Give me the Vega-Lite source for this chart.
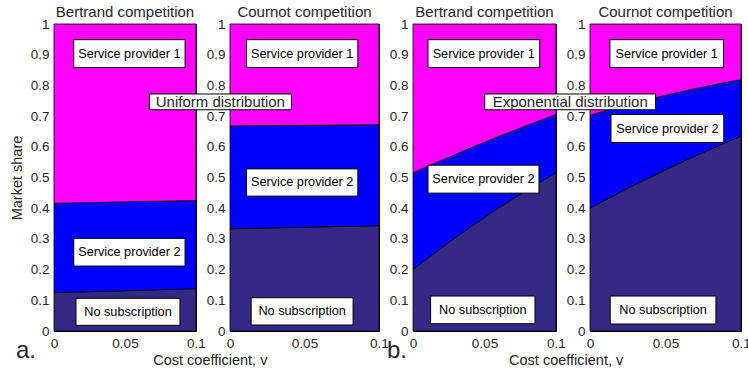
{
  "$schema": "https://vega.github.io/schema/vega-lite/v6.json",
  "padding": {"left": 8, "top": 4, "right": 5, "bottom": 2},
  "background": "white",
  "spacing": 34,
  "bounds": "flush",
  "datasets": {
    "areas": [
      {"panel": "UB", "v": 0, "series": "No subscription", "lo": 0, "hi": 0.125},
      {"panel": "UB", "v": 0.05, "series": "No subscription", "lo": 0, "hi": 0.131},
      {"panel": "UB", "v": 0.1, "series": "No subscription", "lo": 0, "hi": 0.138},
      {"panel": "UB", "v": 0, "series": "Service provider 2", "lo": 0.125, "hi": 0.416},
      {"panel": "UB", "v": 0.05, "series": "Service provider 2", "lo": 0.131, "hi": 0.421},
      {"panel": "UB", "v": 0.1, "series": "Service provider 2", "lo": 0.138, "hi": 0.425},
      {"panel": "UB", "v": 0, "series": "Service provider 1", "lo": 0.416, "hi": 1},
      {"panel": "UB", "v": 0.05, "series": "Service provider 1", "lo": 0.421, "hi": 1},
      {"panel": "UB", "v": 0.1, "series": "Service provider 1", "lo": 0.425, "hi": 1},

      {"panel": "UC", "v": 0, "series": "No subscription", "lo": 0, "hi": 0.333},
      {"panel": "UC", "v": 0.05, "series": "No subscription", "lo": 0, "hi": 0.338},
      {"panel": "UC", "v": 0.1, "series": "No subscription", "lo": 0, "hi": 0.343},
      {"panel": "UC", "v": 0, "series": "Service provider 2", "lo": 0.333, "hi": 0.668},
      {"panel": "UC", "v": 0.05, "series": "Service provider 2", "lo": 0.338, "hi": 0.670},
      {"panel": "UC", "v": 0.1, "series": "Service provider 2", "lo": 0.343, "hi": 0.672},
      {"panel": "UC", "v": 0, "series": "Service provider 1", "lo": 0.668, "hi": 1},
      {"panel": "UC", "v": 0.05, "series": "Service provider 1", "lo": 0.670, "hi": 1},
      {"panel": "UC", "v": 0.1, "series": "Service provider 1", "lo": 0.672, "hi": 1},

      {"panel": "EB", "v": 0, "series": "No subscription", "lo": 0, "hi": 0.200},
      {"panel": "EB", "v": 0.01, "series": "No subscription", "lo": 0, "hi": 0.236},
      {"panel": "EB", "v": 0.02, "series": "No subscription", "lo": 0, "hi": 0.271},
      {"panel": "EB", "v": 0.03, "series": "No subscription", "lo": 0, "hi": 0.305},
      {"panel": "EB", "v": 0.04, "series": "No subscription", "lo": 0, "hi": 0.338},
      {"panel": "EB", "v": 0.05, "series": "No subscription", "lo": 0, "hi": 0.370},
      {"panel": "EB", "v": 0.06, "series": "No subscription", "lo": 0, "hi": 0.401},
      {"panel": "EB", "v": 0.07, "series": "No subscription", "lo": 0, "hi": 0.431},
      {"panel": "EB", "v": 0.08, "series": "No subscription", "lo": 0, "hi": 0.460},
      {"panel": "EB", "v": 0.09, "series": "No subscription", "lo": 0, "hi": 0.488},
      {"panel": "EB", "v": 0.1, "series": "No subscription", "lo": 0, "hi": 0.515},
      {"panel": "EB", "v": 0, "series": "Service provider 2", "lo": 0.200, "hi": 0.515},
      {"panel": "EB", "v": 0.01, "series": "Service provider 2", "lo": 0.236, "hi": 0.536},
      {"panel": "EB", "v": 0.02, "series": "Service provider 2", "lo": 0.271, "hi": 0.556},
      {"panel": "EB", "v": 0.03, "series": "Service provider 2", "lo": 0.305, "hi": 0.576},
      {"panel": "EB", "v": 0.04, "series": "Service provider 2", "lo": 0.338, "hi": 0.596},
      {"panel": "EB", "v": 0.05, "series": "Service provider 2", "lo": 0.370, "hi": 0.615},
      {"panel": "EB", "v": 0.06, "series": "Service provider 2", "lo": 0.401, "hi": 0.634},
      {"panel": "EB", "v": 0.07, "series": "Service provider 2", "lo": 0.431, "hi": 0.652},
      {"panel": "EB", "v": 0.08, "series": "Service provider 2", "lo": 0.460, "hi": 0.670},
      {"panel": "EB", "v": 0.09, "series": "Service provider 2", "lo": 0.488, "hi": 0.688},
      {"panel": "EB", "v": 0.1, "series": "Service provider 2", "lo": 0.515, "hi": 0.705},
      {"panel": "EB", "v": 0, "series": "Service provider 1", "lo": 0.515, "hi": 1},
      {"panel": "EB", "v": 0.01, "series": "Service provider 1", "lo": 0.536, "hi": 1},
      {"panel": "EB", "v": 0.02, "series": "Service provider 1", "lo": 0.556, "hi": 1},
      {"panel": "EB", "v": 0.03, "series": "Service provider 1", "lo": 0.576, "hi": 1},
      {"panel": "EB", "v": 0.04, "series": "Service provider 1", "lo": 0.596, "hi": 1},
      {"panel": "EB", "v": 0.05, "series": "Service provider 1", "lo": 0.615, "hi": 1},
      {"panel": "EB", "v": 0.06, "series": "Service provider 1", "lo": 0.634, "hi": 1},
      {"panel": "EB", "v": 0.07, "series": "Service provider 1", "lo": 0.652, "hi": 1},
      {"panel": "EB", "v": 0.08, "series": "Service provider 1", "lo": 0.670, "hi": 1},
      {"panel": "EB", "v": 0.09, "series": "Service provider 1", "lo": 0.688, "hi": 1},
      {"panel": "EB", "v": 0.1, "series": "Service provider 1", "lo": 0.705, "hi": 1},

      {"panel": "EC", "v": 0, "series": "No subscription", "lo": 0, "hi": 0.400},
      {"panel": "EC", "v": 0.01, "series": "No subscription", "lo": 0, "hi": 0.426},
      {"panel": "EC", "v": 0.02, "series": "No subscription", "lo": 0, "hi": 0.452},
      {"panel": "EC", "v": 0.03, "series": "No subscription", "lo": 0, "hi": 0.477},
      {"panel": "EC", "v": 0.04, "series": "No subscription", "lo": 0, "hi": 0.501},
      {"panel": "EC", "v": 0.05, "series": "No subscription", "lo": 0, "hi": 0.525},
      {"panel": "EC", "v": 0.06, "series": "No subscription", "lo": 0, "hi": 0.548},
      {"panel": "EC", "v": 0.07, "series": "No subscription", "lo": 0, "hi": 0.571},
      {"panel": "EC", "v": 0.08, "series": "No subscription", "lo": 0, "hi": 0.592},
      {"panel": "EC", "v": 0.09, "series": "No subscription", "lo": 0, "hi": 0.614},
      {"panel": "EC", "v": 0.1, "series": "No subscription", "lo": 0, "hi": 0.634},
      {"panel": "EC", "v": 0, "series": "Service provider 2", "lo": 0.400, "hi": 0.703},
      {"panel": "EC", "v": 0.01, "series": "Service provider 2", "lo": 0.426, "hi": 0.717},
      {"panel": "EC", "v": 0.02, "series": "Service provider 2", "lo": 0.452, "hi": 0.731},
      {"panel": "EC", "v": 0.03, "series": "Service provider 2", "lo": 0.477, "hi": 0.744},
      {"panel": "EC", "v": 0.04, "series": "Service provider 2", "lo": 0.501, "hi": 0.756},
      {"panel": "EC", "v": 0.05, "series": "Service provider 2", "lo": 0.525, "hi": 0.768},
      {"panel": "EC", "v": 0.06, "series": "Service provider 2", "lo": 0.548, "hi": 0.779},
      {"panel": "EC", "v": 0.07, "series": "Service provider 2", "lo": 0.571, "hi": 0.790},
      {"panel": "EC", "v": 0.08, "series": "Service provider 2", "lo": 0.592, "hi": 0.800},
      {"panel": "EC", "v": 0.09, "series": "Service provider 2", "lo": 0.614, "hi": 0.810},
      {"panel": "EC", "v": 0.1, "series": "Service provider 2", "lo": 0.634, "hi": 0.819},
      {"panel": "EC", "v": 0, "series": "Service provider 1", "lo": 0.703, "hi": 1},
      {"panel": "EC", "v": 0.01, "series": "Service provider 1", "lo": 0.717, "hi": 1},
      {"panel": "EC", "v": 0.02, "series": "Service provider 1", "lo": 0.731, "hi": 1},
      {"panel": "EC", "v": 0.03, "series": "Service provider 1", "lo": 0.744, "hi": 1},
      {"panel": "EC", "v": 0.04, "series": "Service provider 1", "lo": 0.756, "hi": 1},
      {"panel": "EC", "v": 0.05, "series": "Service provider 1", "lo": 0.768, "hi": 1},
      {"panel": "EC", "v": 0.06, "series": "Service provider 1", "lo": 0.779, "hi": 1},
      {"panel": "EC", "v": 0.07, "series": "Service provider 1", "lo": 0.790, "hi": 1},
      {"panel": "EC", "v": 0.08, "series": "Service provider 1", "lo": 0.800, "hi": 1},
      {"panel": "EC", "v": 0.09, "series": "Service provider 1", "lo": 0.810, "hi": 1},
      {"panel": "EC", "v": 0.1, "series": "Service provider 1", "lo": 0.819, "hi": 1}
    ],
    "boxes": [
      {"panel": "UB", "label": "Service provider 1", "x1": 0.0139, "x2": 0.0923, "y1": 0.858, "y2": 0.949, "tx": 0.0531, "ty": 0.9035},
      {"panel": "UB", "label": "Service provider 2", "x1": 0.0139, "x2": 0.0923, "y1": 0.2115, "y2": 0.3017, "tx": 0.0531, "ty": 0.2566},
      {"panel": "UB", "label": "No subscription", "x1": 0.0155, "x2": 0.0887, "y1": 0.0185, "y2": 0.1064, "tx": 0.0521, "ty": 0.0625},
      {"panel": "UC", "label": "Service provider 1", "x1": 0.0111, "x2": 0.0858, "y1": 0.858, "y2": 0.949, "tx": 0.0484, "ty": 0.9035},
      {"panel": "UC", "label": "Service provider 2", "x1": 0.0111, "x2": 0.0858, "y1": 0.4393, "y2": 0.528, "tx": 0.0484, "ty": 0.4838},
      {"panel": "UC", "label": "No subscription", "x1": 0.0142, "x2": 0.0826, "y1": 0.0195, "y2": 0.1084, "tx": 0.0484, "ty": 0.064},
      {"panel": "EB", "label": "Service provider 1", "x1": 0.0105, "x2": 0.0886, "y1": 0.858, "y2": 0.949, "tx": 0.0495, "ty": 0.9035},
      {"panel": "EB", "label": "Service provider 2", "x1": 0.0105, "x2": 0.0881, "y1": 0.4491, "y2": 0.5402, "tx": 0.0493, "ty": 0.4946},
      {"panel": "EB", "label": "No subscription", "x1": 0.0123, "x2": 0.0853, "y1": 0.0238, "y2": 0.1139, "tx": 0.0488, "ty": 0.0688},
      {"panel": "EC", "label": "Service provider 1", "x1": 0.0132, "x2": 0.0884, "y1": 0.858, "y2": 0.949, "tx": 0.0508, "ty": 0.9035},
      {"panel": "EC", "label": "Service provider 2", "x1": 0.0139, "x2": 0.0886, "y1": 0.6141, "y2": 0.7052, "tx": 0.0512, "ty": 0.6596},
      {"panel": "EC", "label": "No subscription", "x1": 0.0134, "x2": 0.0834, "y1": 0.0228, "y2": 0.1139, "tx": 0.0484, "ty": 0.0683}
    ],
    "notes": [
      {"panel": "UC", "label": "Uniform distribution", "x1": -0.0541, "x2": 0.0412, "y1": 0.7206, "y2": 0.772, "tx": -0.0065, "ty": 0.7463},
      {"panel": "EC", "label": "Exponential distribution", "x1": -0.0697, "x2": 0.0434, "y1": 0.7206, "y2": 0.772, "tx": -0.0131, "ty": 0.7463}
    ],
    "tags": [
      {"panel": "UB", "label": "a.", "tx": -0.0197, "ty": -0.088},
      {"panel": "EB", "label": "b.", "tx": -0.0112, "ty": -0.088}
    ],
    "xtitles": [
      {"panel": "UC", "label": "Cost coefficient, v", "tx": -0.0132, "ty": -0.11},
      {"panel": "EC", "label": "Cost coefficient, v", "tx": -0.0158, "ty": -0.11}
    ]
  },
  "hconcat": [
    {
      "width": 142, "height": 307,
      "title": "Bertrand competition",
      "layer": [
        {
          "data": {"name": "areas"},
          "transform": [{"filter": "datum.panel === 'UB'"}],
          "mark": {"type": "area", "stroke": "black", "strokeWidth": 0.8, "opacity": 1},
          "encoding": {
            "x": {"field": "v", "type": "quantitative", "title": null, "scale": {"domain": [0, 0.1], "nice": false}, "axis": {"values": [0, 0.05, 0.1], "format": "~g"}},
            "y": {"field": "hi", "type": "quantitative", "title": "Market share", "scale": {"domain": [0, 1], "nice": false}, "axis": {"values": [0, 0.1, 0.2, 0.3, 0.4, 0.5, 0.6, 0.7, 0.8, 0.9, 1], "format": "~g"}},
            "y2": {"field": "lo"},
            "color": {"field": "series", "type": "nominal", "legend": null, "scale": {"domain": ["No subscription", "Service provider 2", "Service provider 1"], "range": ["#342a86", "#0000ff", "#ff00ff"]}}
          }
        },
        {
          "data": {"name": "boxes"},
          "transform": [{"filter": "datum.panel === 'UB'"}],
          "mark": {"type": "rect", "fill": "white", "stroke": "black", "strokeWidth": 1},
          "encoding": {
            "x": {"field": "x1", "type": "quantitative", "title": null, "axis": {"values": [0, 0.05, 0.1], "format": "~g"}},
            "x2": {"field": "x2"},
            "y": {"field": "y1", "type": "quantitative", "title": "Market share", "axis": {"values": [0, 0.1, 0.2, 0.3, 0.4, 0.5, 0.6, 0.7, 0.8, 0.9, 1], "format": "~g"}},
            "y2": {"field": "y2"}
          }
        },
        {
          "data": {"name": "boxes"},
          "transform": [{"filter": "datum.panel === 'UB'"}],
          "mark": {"type": "text", "fontSize": 12.7, "color": "black", "align": "center", "baseline": "middle"},
          "encoding": {
            "x": {"field": "tx", "type": "quantitative", "title": null, "axis": {"values": [0, 0.05, 0.1], "format": "~g"}},
            "y": {"field": "ty", "type": "quantitative", "title": "Market share", "axis": {"values": [0, 0.1, 0.2, 0.3, 0.4, 0.5, 0.6, 0.7, 0.8, 0.9, 1], "format": "~g"}},
            "text": {"field": "label"}
          }
        },
        {
          "data": {"name": "tags"},
          "transform": [{"filter": "datum.panel === 'UB'"}],
          "mark": {"type": "text", "fontSize": 24, "color": "#262626", "align": "center", "baseline": "alphabetic"},
          "encoding": {
            "x": {"field": "tx", "type": "quantitative", "title": null, "axis": {"values": [0, 0.05, 0.1], "format": "~g"}},
            "y": {"field": "ty", "type": "quantitative", "title": "Market share", "axis": {"values": [0, 0.1, 0.2, 0.3, 0.4, 0.5, 0.6, 0.7, 0.8, 0.9, 1], "format": "~g"}},
            "text": {"field": "label"}
          }
        }
      ]
    },
    {
      "width": 149, "height": 307,
      "title": "Cournot competition",
      "layer": [
        {
          "data": {"name": "areas"},
          "transform": [{"filter": "datum.panel === 'UC'"}],
          "mark": {"type": "area", "stroke": "black", "strokeWidth": 0.8, "opacity": 1},
          "encoding": {
            "x": {"field": "v", "type": "quantitative", "title": null, "scale": {"domain": [0, 0.1], "nice": false}, "axis": {"values": [0, 0.05, 0.1], "format": "~g"}},
            "y": {"field": "hi", "type": "quantitative", "title": null, "scale": {"domain": [0, 1], "nice": false}, "axis": {"values": [0, 0.1, 0.2, 0.3, 0.4, 0.5, 0.6, 0.7, 0.8, 0.9, 1], "format": "~g"}},
            "y2": {"field": "lo"},
            "color": {"field": "series", "type": "nominal", "legend": null, "scale": {"domain": ["No subscription", "Service provider 2", "Service provider 1"], "range": ["#342a86", "#0000ff", "#ff00ff"]}}
          }
        },
        {
          "data": {"name": "boxes"},
          "transform": [{"filter": "datum.panel === 'UC'"}],
          "mark": {"type": "rect", "fill": "white", "stroke": "black", "strokeWidth": 1},
          "encoding": {
            "x": {"field": "x1", "type": "quantitative", "title": null, "axis": {"values": [0, 0.05, 0.1], "format": "~g"}},
            "x2": {"field": "x2"},
            "y": {"field": "y1", "type": "quantitative", "title": null, "axis": {"values": [0, 0.1, 0.2, 0.3, 0.4, 0.5, 0.6, 0.7, 0.8, 0.9, 1], "format": "~g"}},
            "y2": {"field": "y2"}
          }
        },
        {
          "data": {"name": "boxes"},
          "transform": [{"filter": "datum.panel === 'UC'"}],
          "mark": {"type": "text", "fontSize": 12.7, "color": "black", "align": "center", "baseline": "middle"},
          "encoding": {
            "x": {"field": "tx", "type": "quantitative", "title": null, "axis": {"values": [0, 0.05, 0.1], "format": "~g"}},
            "y": {"field": "ty", "type": "quantitative", "title": null, "axis": {"values": [0, 0.1, 0.2, 0.3, 0.4, 0.5, 0.6, 0.7, 0.8, 0.9, 1], "format": "~g"}},
            "text": {"field": "label"}
          }
        },
        {
          "data": {"name": "notes"},
          "transform": [{"filter": "datum.panel === 'UC'"}],
          "mark": {"type": "rect", "fill": "white", "stroke": "black", "strokeWidth": 1},
          "encoding": {
            "x": {"field": "x1", "type": "quantitative", "title": null, "axis": {"values": [0, 0.05, 0.1], "format": "~g"}},
            "x2": {"field": "x2"},
            "y": {"field": "y1", "type": "quantitative", "title": null, "axis": {"values": [0, 0.1, 0.2, 0.3, 0.4, 0.5, 0.6, 0.7, 0.8, 0.9, 1], "format": "~g"}},
            "y2": {"field": "y2"}
          }
        },
        {
          "data": {"name": "notes"},
          "transform": [{"filter": "datum.panel === 'UC'"}],
          "mark": {"type": "text", "fontSize": 15, "color": "#262626", "align": "center", "baseline": "middle"},
          "encoding": {
            "x": {"field": "tx", "type": "quantitative", "title": null, "axis": {"values": [0, 0.05, 0.1], "format": "~g"}},
            "y": {"field": "ty", "type": "quantitative", "title": null, "axis": {"values": [0, 0.1, 0.2, 0.3, 0.4, 0.5, 0.6, 0.7, 0.8, 0.9, 1], "format": "~g"}},
            "text": {"field": "label"}
          }
        },
        {
          "data": {"name": "xtitles"},
          "transform": [{"filter": "datum.panel === 'UC'"}],
          "mark": {"type": "text", "fontSize": 14.5, "color": "#262626", "align": "center", "baseline": "alphabetic"},
          "encoding": {
            "x": {"field": "tx", "type": "quantitative", "title": null, "axis": {"values": [0, 0.05, 0.1], "format": "~g"}},
            "y": {"field": "ty", "type": "quantitative", "title": null, "axis": {"values": [0, 0.1, 0.2, 0.3, 0.4, 0.5, 0.6, 0.7, 0.8, 0.9, 1], "format": "~g"}},
            "text": {"field": "label"}
          }
        }
      ]
    },
    {
      "width": 143, "height": 307,
      "title": "Bertrand competition",
      "layer": [
        {
          "data": {"name": "areas"},
          "transform": [{"filter": "datum.panel === 'EB'"}],
          "mark": {"type": "area", "stroke": "black", "strokeWidth": 0.8, "opacity": 1},
          "encoding": {
            "x": {"field": "v", "type": "quantitative", "title": null, "scale": {"domain": [0, 0.1], "nice": false}, "axis": {"values": [0, 0.05, 0.1], "format": "~g"}},
            "y": {"field": "hi", "type": "quantitative", "title": null, "scale": {"domain": [0, 1], "nice": false}, "axis": {"values": [0, 0.1, 0.2, 0.3, 0.4, 0.5, 0.6, 0.7, 0.8, 0.9, 1], "format": "~g"}},
            "y2": {"field": "lo"},
            "color": {"field": "series", "type": "nominal", "legend": null, "scale": {"domain": ["No subscription", "Service provider 2", "Service provider 1"], "range": ["#342a86", "#0000ff", "#ff00ff"]}}
          }
        },
        {
          "data": {"name": "boxes"},
          "transform": [{"filter": "datum.panel === 'EB'"}],
          "mark": {"type": "rect", "fill": "white", "stroke": "black", "strokeWidth": 1},
          "encoding": {
            "x": {"field": "x1", "type": "quantitative", "title": null, "axis": {"values": [0, 0.05, 0.1], "format": "~g"}},
            "x2": {"field": "x2"},
            "y": {"field": "y1", "type": "quantitative", "title": null, "axis": {"values": [0, 0.1, 0.2, 0.3, 0.4, 0.5, 0.6, 0.7, 0.8, 0.9, 1], "format": "~g"}},
            "y2": {"field": "y2"}
          }
        },
        {
          "data": {"name": "boxes"},
          "transform": [{"filter": "datum.panel === 'EB'"}],
          "mark": {"type": "text", "fontSize": 12.7, "color": "black", "align": "center", "baseline": "middle"},
          "encoding": {
            "x": {"field": "tx", "type": "quantitative", "title": null, "axis": {"values": [0, 0.05, 0.1], "format": "~g"}},
            "y": {"field": "ty", "type": "quantitative", "title": null, "axis": {"values": [0, 0.1, 0.2, 0.3, 0.4, 0.5, 0.6, 0.7, 0.8, 0.9, 1], "format": "~g"}},
            "text": {"field": "label"}
          }
        },
        {
          "data": {"name": "tags"},
          "transform": [{"filter": "datum.panel === 'EB'"}],
          "mark": {"type": "text", "fontSize": 24, "color": "#262626", "align": "center", "baseline": "alphabetic"},
          "encoding": {
            "x": {"field": "tx", "type": "quantitative", "title": null, "axis": {"values": [0, 0.05, 0.1], "format": "~g"}},
            "y": {"field": "ty", "type": "quantitative", "title": null, "axis": {"values": [0, 0.1, 0.2, 0.3, 0.4, 0.5, 0.6, 0.7, 0.8, 0.9, 1], "format": "~g"}},
            "text": {"field": "label"}
          }
        }
      ]
    },
    {
      "width": 151, "height": 307,
      "title": "Cournot competition",
      "layer": [
        {
          "data": {"name": "areas"},
          "transform": [{"filter": "datum.panel === 'EC'"}],
          "mark": {"type": "area", "stroke": "black", "strokeWidth": 0.8, "opacity": 1},
          "encoding": {
            "x": {"field": "v", "type": "quantitative", "title": null, "scale": {"domain": [0, 0.1], "nice": false}, "axis": {"values": [0, 0.05, 0.1], "format": "~g"}},
            "y": {"field": "hi", "type": "quantitative", "title": null, "scale": {"domain": [0, 1], "nice": false}, "axis": {"values": [0, 0.1, 0.2, 0.3, 0.4, 0.5, 0.6, 0.7, 0.8, 0.9, 1], "format": "~g"}},
            "y2": {"field": "lo"},
            "color": {"field": "series", "type": "nominal", "legend": null, "scale": {"domain": ["No subscription", "Service provider 2", "Service provider 1"], "range": ["#342a86", "#0000ff", "#ff00ff"]}}
          }
        },
        {
          "data": {"name": "boxes"},
          "transform": [{"filter": "datum.panel === 'EC'"}],
          "mark": {"type": "rect", "fill": "white", "stroke": "black", "strokeWidth": 1},
          "encoding": {
            "x": {"field": "x1", "type": "quantitative", "title": null, "axis": {"values": [0, 0.05, 0.1], "format": "~g"}},
            "x2": {"field": "x2"},
            "y": {"field": "y1", "type": "quantitative", "title": null, "axis": {"values": [0, 0.1, 0.2, 0.3, 0.4, 0.5, 0.6, 0.7, 0.8, 0.9, 1], "format": "~g"}},
            "y2": {"field": "y2"}
          }
        },
        {
          "data": {"name": "boxes"},
          "transform": [{"filter": "datum.panel === 'EC'"}],
          "mark": {"type": "text", "fontSize": 12.7, "color": "black", "align": "center", "baseline": "middle"},
          "encoding": {
            "x": {"field": "tx", "type": "quantitative", "title": null, "axis": {"values": [0, 0.05, 0.1], "format": "~g"}},
            "y": {"field": "ty", "type": "quantitative", "title": null, "axis": {"values": [0, 0.1, 0.2, 0.3, 0.4, 0.5, 0.6, 0.7, 0.8, 0.9, 1], "format": "~g"}},
            "text": {"field": "label"}
          }
        },
        {
          "data": {"name": "notes"},
          "transform": [{"filter": "datum.panel === 'EC'"}],
          "mark": {"type": "rect", "fill": "white", "stroke": "black", "strokeWidth": 1},
          "encoding": {
            "x": {"field": "x1", "type": "quantitative", "title": null, "axis": {"values": [0, 0.05, 0.1], "format": "~g"}},
            "x2": {"field": "x2"},
            "y": {"field": "y1", "type": "quantitative", "title": null, "axis": {"values": [0, 0.1, 0.2, 0.3, 0.4, 0.5, 0.6, 0.7, 0.8, 0.9, 1], "format": "~g"}},
            "y2": {"field": "y2"}
          }
        },
        {
          "data": {"name": "notes"},
          "transform": [{"filter": "datum.panel === 'EC'"}],
          "mark": {"type": "text", "fontSize": 15, "color": "#262626", "align": "center", "baseline": "middle"},
          "encoding": {
            "x": {"field": "tx", "type": "quantitative", "title": null, "axis": {"values": [0, 0.05, 0.1], "format": "~g"}},
            "y": {"field": "ty", "type": "quantitative", "title": null, "axis": {"values": [0, 0.1, 0.2, 0.3, 0.4, 0.5, 0.6, 0.7, 0.8, 0.9, 1], "format": "~g"}},
            "text": {"field": "label"}
          }
        },
        {
          "data": {"name": "xtitles"},
          "transform": [{"filter": "datum.panel === 'EC'"}],
          "mark": {"type": "text", "fontSize": 14.5, "color": "#262626", "align": "center", "baseline": "alphabetic"},
          "encoding": {
            "x": {"field": "tx", "type": "quantitative", "title": null, "axis": {"values": [0, 0.05, 0.1], "format": "~g"}},
            "y": {"field": "ty", "type": "quantitative", "title": null, "axis": {"values": [0, 0.1, 0.2, 0.3, 0.4, 0.5, 0.6, 0.7, 0.8, 0.9, 1], "format": "~g"}},
            "text": {"field": "label"}
          }
        }
      ]
    }
  ],
  "config": {
    "font": "Liberation Sans",
    "view": {"stroke": "black", "strokeWidth": 1},
    "axis": {
      "domain": false, "ticks": false, "grid": false,
      "labelFont": "Liberation Sans", "labelFontSize": 13.5, "labelColor": "#262626",
      "labelPadding": 5, "labelFlush": false, "labelOverlap": false,
      "titleFont": "Liberation Sans", "titleFontSize": 14.5, "titleFontWeight": "normal", "titleColor": "#262626", "titlePadding": 6
    },
    "title": {"font": "Liberation Sans", "fontSize": 15, "fontWeight": "normal", "color": "#262626", "anchor": "middle", "frame": "group", "offset": -3, "baseline": "alphabetic"},
    "text": {"font": "Liberation Sans"}
  }
}
